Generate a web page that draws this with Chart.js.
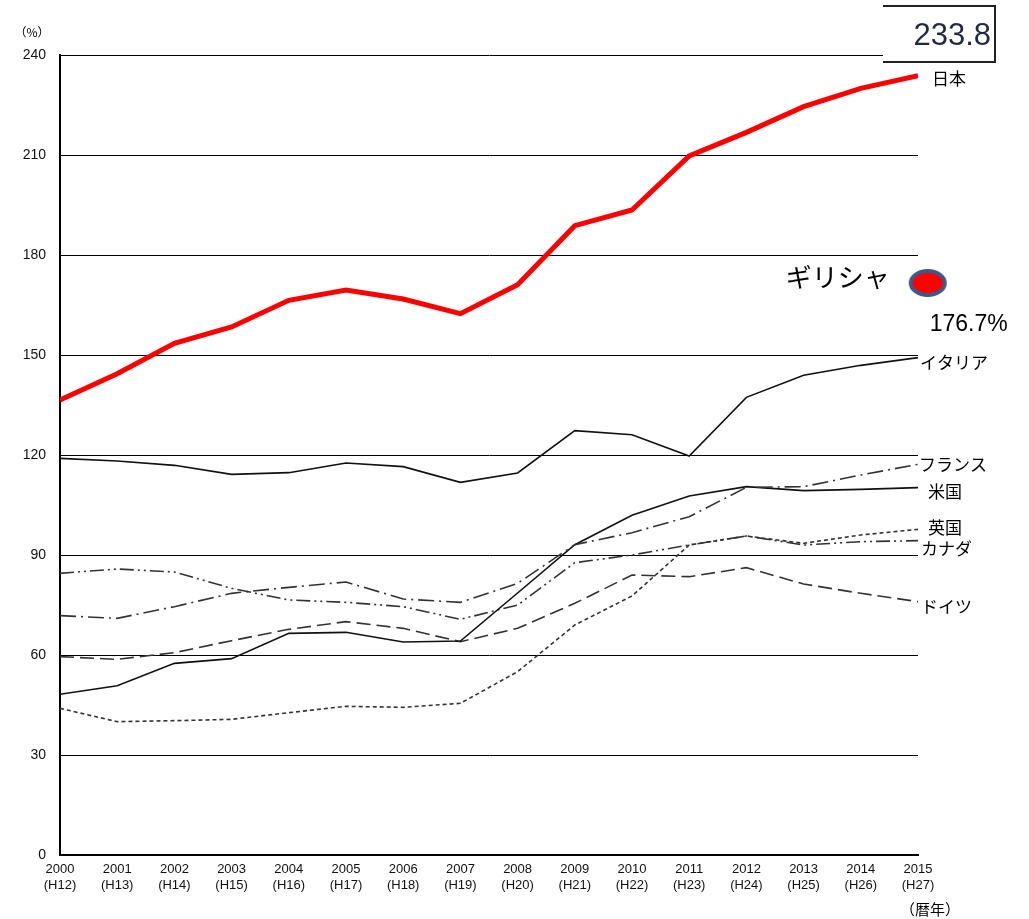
<!DOCTYPE html>
<html lang="ja">
<head>
  <meta charset="UTF-8" />
  <title>債務残高の国際比較</title>
  <script src="https://cdn.jsdelivr.net/npm/chart.js"></script>
  <style>
    html, body { margin: 0; padding: 0; background: #fff; }
    #wrap { width: 1029px; height: 919px; position: relative; }
  </style>
</head>
<body>
<div id="wrap"><canvas id="debtChart"></canvas></div>

<script>
  // data (% of GDP)
  const years = [2000, 2001, 2002, 2003, 2004, 2005, 2006, 2007, 2008, 2009, 2010, 2011, 2012, 2013, 2014, 2015];
  const heisei = ['H12', 'H13', 'H14', 'H15', 'H16', 'H17', 'H18', 'H19', 'H20', 'H21', 'H22', 'H23', 'H24', 'H25', 'H26', 'H27'];
  const yTicks = [0, 30, 60, 90, 120, 150, 180, 210, 240];

  const japan   = [136.5, 144.4, 153.5, 158.4, 166.4, 169.5, 166.8, 162.4, 171.1, 188.8, 193.5, 209.7, 216.8, 224.5, 230.0, 233.8];
  const italy   = [119.0, 118.2, 116.9, 114.2, 114.7, 117.6, 116.5, 111.8, 114.6, 127.3, 126.1, 119.7, 137.3, 143.9, 146.9, 149.2];
  const france  = [71.8, 71.0, 74.5, 78.5, 80.3, 81.9, 76.8, 75.8, 81.5, 93.1, 96.7, 101.5, 110.3, 110.5, 114.0, 117.2];
  const usa     = [48.2, 50.8, 57.5, 58.9, 66.5, 66.8, 63.9, 64.2, 78.6, 93.1, 101.9, 107.7, 110.5, 109.3, 109.7, 110.2];
  const germany = [59.5, 58.7, 60.7, 64.3, 67.7, 70.0, 68.0, 64.0, 68.0, 75.5, 84.0, 83.5, 86.2, 81.3, 78.5, 76.0];
  const uk      = [44.0, 40.0, 40.3, 40.7, 42.7, 44.6, 44.3, 45.5, 55.0, 69.0, 77.7, 93.0, 95.7, 93.5, 96.0, 97.7];
  const canada  = [84.5, 85.8, 84.9, 80.0, 76.5, 75.8, 74.5, 70.7, 75.0, 87.7, 90.0, 93.0, 95.7, 93.0, 94.0, 94.3];

  const greeceX = [2015.17];
  const greeceY = [171.6];
  const greeceText = '176.7%';

  const CJK = '"Noto Sans CJK JP", sans-serif';
  const LAT = '"Liberation Sans", Arial, sans-serif';

  function pts(vals) {
    return vals.map((v, i) => ({ x: years[i], y: v }));
  }

  // ellipse marker for Greece
  const greeceMark = document.createElement('canvas');
  greeceMark.width = 40; greeceMark.height = 30;
  (function () {
    const g = greeceMark.getContext('2d');
    g.beginPath();
    g.ellipse(20, 15, 17, 12, 0, 0, Math.PI * 2);
    g.fillStyle = '#ff0000';
    g.fill();
    g.lineWidth = 4;
    g.strokeStyle = '#3b5a85';
    g.stroke();
  })();

  // series: label, data, colour, width, dash, label offset
  const series = [
    { name: '日本',   data: japan,   color: '#ff0000', width: 5,   dash: [],                 dx: 14, dy: 3 },
    { name: 'イタリア', data: italy,   color: '#111111', width: 1.6, dash: [],                 dx: 2,  dy: 5 },
    { name: 'フランス', data: france,  color: '#333333', width: 1.6, dash: [16, 5, 2, 5],       dx: 1,  dy: 0 },
    { name: '米国',   data: usa,     color: '#111111', width: 1.6, dash: [],                 dx: 10, dy: 4 },
    { name: '英国',   data: uk,      color: '#333333', width: 1.6, dash: [4, 3],             dx: 10, dy: -2 },
    { name: 'カナダ',  data: canada,  color: '#333333', width: 1.6, dash: [14, 4, 2, 4, 2, 4], dx: 3,  dy: 8 },
    { name: 'ドイツ',  data: germany, color: '#333333', width: 1.6, dash: [14, 6],            dx: 3,  dy: 5 }
  ];

  const datasets = series.map(s => ({
    label: s.name,
    data: pts(s.data),
    borderColor: s.color,
    backgroundColor: s.color,
    borderWidth: s.width,
    borderDash: s.dash,
    pointRadius: 0,
    tension: 0,
    fill: false
  }));
  // drawn last-to-first so japan sits on top
  datasets.forEach((d, i) => { d.order = i; });

  datasets.push({
    label: 'ギリシャ',
    data: greeceX.map((x, i) => ({ x: x, y: greeceY[i] })),
    showLine: false,
    pointStyle: greeceMark,
    pointRadius: 15,
    clip: false,
    order: -1
  });

  const decorations = {
    id: 'decorations',
    afterDraw(chart) {
      const ctx = chart.ctx;
      const xs = chart.scales.x, ys = chart.scales.y;
      const area = chart.chartArea;
      ctx.save();

      // series names at line ends
      ctx.fillStyle = '#000';
      ctx.textBaseline = 'middle';
      ctx.textAlign = 'left';
      ctx.font = '17px ' + CJK;
      series.forEach(s => {
        const last = s.data[s.data.length - 1];
        ctx.fillText(s.name, xs.getPixelForValue(years[years.length - 1]) + s.dx, ys.getPixelForValue(last) + s.dy);
      });

      // boxed latest value for japan
      const bx = area.right - 35, by = 6, bw = 112, bh = 56;
      ctx.fillStyle = '#fff';
      ctx.fillRect(bx, by - 1, bw, bh + 2);
      ctx.strokeStyle = '#222';
      ctx.lineWidth = 2;
      ctx.beginPath();
      ctx.moveTo(bx, by); ctx.lineTo(bx + bw, by); ctx.lineTo(bx + bw, by + bh); ctx.lineTo(bx, by + bh);
      ctx.stroke();
      ctx.fillStyle = '#1f2b45';
      ctx.font = '31px ' + LAT;
      ctx.textAlign = 'right';
      ctx.fillText(japan[japan.length - 1].toFixed(1), bx + bw - 4, by + bh / 2 + 2);

      // greece annotation
      const gx = xs.getPixelForValue(greeceX[0]), gy = ys.getPixelForValue(greeceY[0]);
      ctx.fillStyle = '#000';
      ctx.font = '26px ' + CJK;
      ctx.textAlign = 'right';
      ctx.fillText('ギリシャ', gx - 38, gy - 6);
      ctx.font = '23px ' + LAT;
      ctx.textAlign = 'left';
      ctx.fillText(greeceText, gx + 2, gy + 42);

      // unit labels
      ctx.font = '12px ' + CJK;
      ctx.textAlign = 'center';
      ctx.fillText('（%）', 32, 32);
      ctx.font = '15px ' + CJK;
      ctx.fillText('（暦年）', area.right + 12, 909);
      ctx.restore();
    }
  };

  new Chart(document.getElementById('debtChart'), {
    type: 'line',
    data: { datasets: datasets },
    options: {
      responsive: true,
      maintainAspectRatio: false,
      animation: false,
      layout: { padding: { top: 55, right: 111, left: 0, bottom: 0 } },
      plugins: { legend: { display: false }, tooltip: { enabled: false } },
      scales: {
        x: {
          type: 'linear',
          min: years[0],
          max: years[years.length - 1],
          afterBuildTicks(scale) { scale.ticks = years.map(v => ({ value: v })); },
          afterFit(scale) { scale.height = 64; },
          grid: { display: false, drawTicks: false },
          border: { display: true, color: '#000', width: 2 },
          ticks: {
            padding: 7,
            color: '#111',
            maxRotation: 0,
            autoSkip: false,
            font: { family: LAT, size: 13 },
            callback: (v) => {
              const i = years.indexOf(v);
              return i < 0 ? '' : [String(years[i]), '(' + heisei[i] + ')'];
            }
          }
        },
        y: {
          min: 0,
          max: 240,
          afterBuildTicks(scale) { scale.ticks = yTicks.map(v => ({ value: v })); },
          afterFit(scale) { scale.width = 60; },
          grid: { color: '#000', lineWidth: 1, drawTicks: false },
          border: { display: true, color: '#000', width: 2 },
          ticks: {
            padding: 14,
            color: '#111',
            font: { family: LAT, size: 14 }
          }
        }
      }
    },
    plugins: [decorations]
  });
</script>
</body>
</html>
